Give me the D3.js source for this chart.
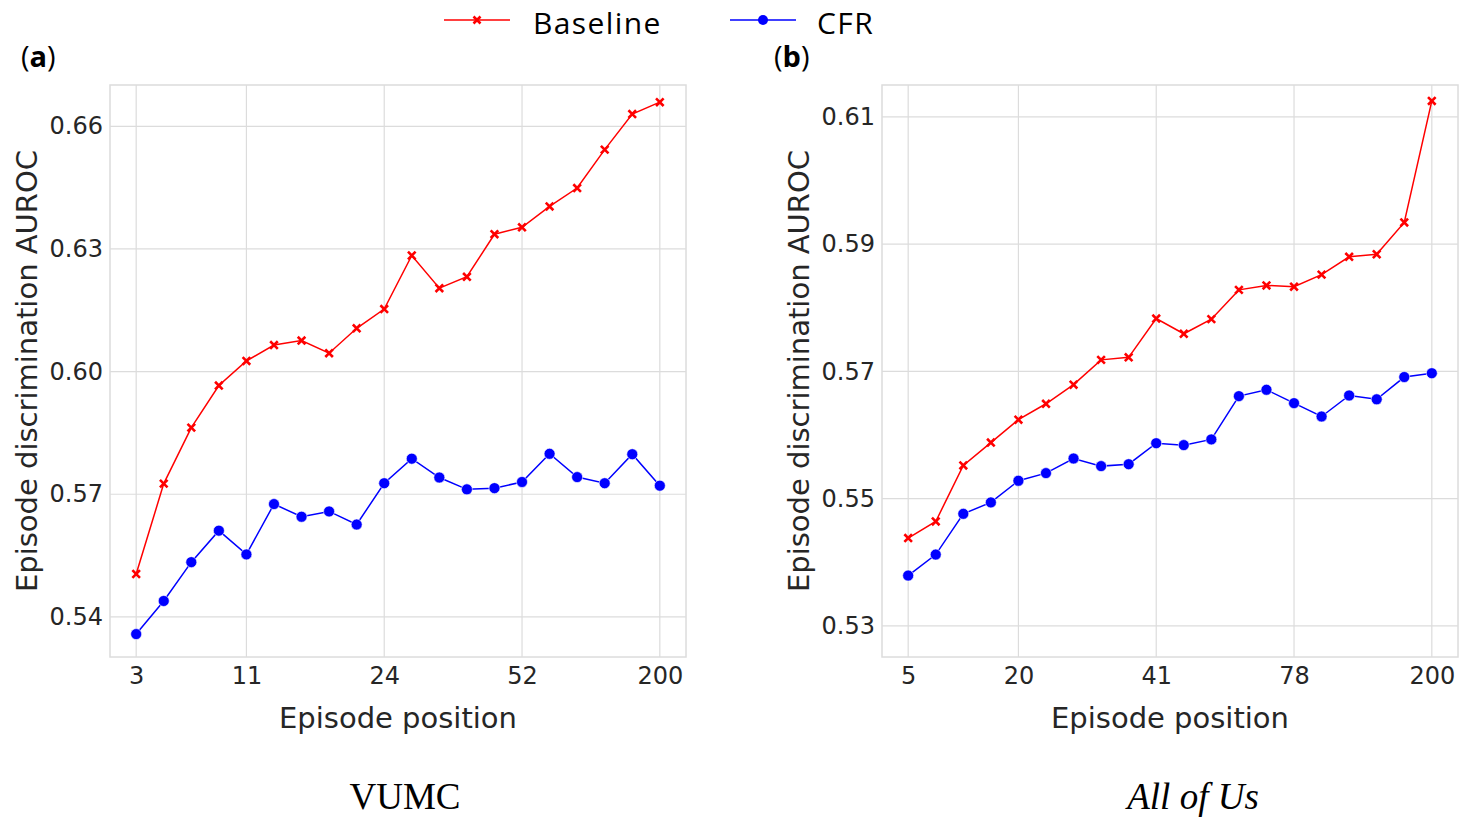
<!DOCTYPE html>
<html>
<head>
<meta charset="utf-8">
<script src="https://cdn.jsdelivr.net/npm/d3@7"></script>
<style>
  body { margin: 0; background: #fff; }
  svg { display: block; }
</style>
</head>
<body>
<div id="chart"></div>
<script>
// episode positions (categorical, only some labelled)
const tickLabelsA = ["3", "11", "24", "52", "200"];
const tickIdxA = [0, 4, 9, 14, 19];
const tickLabelsB = ["5", "20", "41", "78", "200"];
const tickIdxB = [0, 4, 9, 14, 19];

const baselineA = [0.5505, 0.5726, 0.5863, 0.5966, 0.6026, 0.6065, 0.6076, 0.6045, 0.6106, 0.6153,
                   0.6284, 0.6204, 0.6232, 0.6336, 0.6353, 0.6404, 0.6449, 0.6543, 0.6630, 0.6659];
const cfrA = [0.5358, 0.5439, 0.5534, 0.5611, 0.5553, 0.5676, 0.5645, 0.5658, 0.5626, 0.5727,
              0.5787, 0.5741, 0.5712, 0.5715, 0.5730, 0.5799, 0.5742, 0.5727, 0.5798, 0.5721];

const baselineB = [0.5438, 0.5464, 0.5552, 0.5588, 0.5624, 0.5649, 0.5679, 0.5718, 0.5722, 0.5783,
                   0.5759, 0.5782, 0.5828, 0.5835, 0.5833, 0.5852, 0.5880, 0.5884, 0.5934, 0.6125];
const cfrB = [0.5379, 0.5412, 0.5476, 0.5494, 0.5528, 0.5540, 0.5563, 0.5551, 0.5554, 0.5587,
              0.5584, 0.5593, 0.5661, 0.5671, 0.5650, 0.5629, 0.5662, 0.5656, 0.5691, 0.5697];

const yTicksA = [0.54, 0.57, 0.60, 0.63, 0.66];
const yTicksB = [0.53, 0.55, 0.57, 0.59, 0.61];

const W = 1465, H = 819;
const svg = d3.select("#chart").append("svg").attr("width", W).attr("height", H);

const RED = "#ff0000", BLUE = "#0000ff", GRID = "#dcdcdc";
const sans = "'DejaVu Sans', sans-serif";

function drawPanel(opt) {
  const { left, right, top, bottom } = opt;
  const n = opt.baseline.length;
  const x = d3.scaleLinear().domain([-0.95, n - 1 + 0.95]).range([left, right]);
  const y = d3.scaleLinear().domain(opt.yDomain).range([bottom, top]);

  const g = svg.append("g");

  // grid
  g.append("g").selectAll("line")
    .data(opt.tickIdx)
    .join("line")
      .attr("x1", d => x(d)).attr("x2", d => x(d))
      .attr("y1", top).attr("y2", bottom)
      .attr("stroke", GRID).attr("stroke-width", 1.2);
  g.append("g").selectAll("line")
    .data(opt.yTicks)
    .join("line")
      .attr("x1", left).attr("x2", right)
      .attr("y1", d => y(d)).attr("y2", d => y(d))
      .attr("stroke", GRID).attr("stroke-width", 1.2);

  g.append("rect")
    .attr("x", left).attr("y", top)
    .attr("width", right - left).attr("height", bottom - top)
    .attr("fill", "none").attr("stroke", GRID).attr("stroke-width", 1.5);

  // axes tick labels
  const xAxis = d3.axisBottom(x).tickValues(opt.tickIdx)
    .tickFormat((d, i) => opt.tickLabels[i]).tickSize(0).tickPadding(10);
  const xg = g.append("g").attr("transform", `translate(0,${bottom})`).call(xAxis);
  xg.select(".domain").remove();
  xg.selectAll("text").attr("font-family", sans).attr("font-size", 24).attr("fill", "#262626");

  const yAxis = d3.axisLeft(y).tickValues(opt.yTicks)
    .tickFormat(d3.format(".2f")).tickSize(0).tickPadding(7);
  const yg = g.append("g").attr("transform", `translate(${left},0)`).call(yAxis);
  yg.select(".domain").remove();
  yg.selectAll("text").attr("font-family", sans).attr("font-size", 24).attr("fill", "#262626");

  // axis titles
  g.append("text")
    .attr("x", (left + right) / 2).attr("y", 728)
    .attr("text-anchor", "middle")
    .attr("font-family", sans).attr("font-size", 29).attr("fill", "#262626")
    .text("Episode position");
  g.append("text")
    .attr("transform", `translate(${left - 73},${(top + bottom) / 2}) rotate(-90)`)
    .attr("text-anchor", "middle")
    .attr("font-family", sans).attr("font-size", 29).attr("fill", "#262626")
    .text("Episode discrimination AUROC");

  const line = d3.line().x((d, i) => x(i)).y(d => y(d));

  // CFR line + dots
  g.append("path").datum(opt.cfr)
    .attr("d", line).attr("fill", "none")
    .attr("stroke", BLUE).attr("stroke-width", 1.5);
  g.append("g").selectAll("circle")
    .data(opt.cfr)
    .join("circle")
      .attr("cx", (d, i) => x(i)).attr("cy", d => y(d))
      .attr("r", 5.5).attr("fill", BLUE)
      .attr("stroke", "#fff").attr("stroke-width", 0.6);

  // Baseline line + x markers
  g.append("path").datum(opt.baseline)
    .attr("d", line).attr("fill", "none")
    .attr("stroke", RED).attr("stroke-width", 1.5);
  const s = 3.8;
  g.append("g").selectAll("path")
    .data(opt.baseline)
    .join("path")
      .attr("d", (d, i) => {
        const cx = x(i), cy = y(d);
        return `M${cx - s},${cy - s}L${cx + s},${cy + s}M${cx - s},${cy + s}L${cx + s},${cy - s}`;
      })
      .attr("stroke", RED).attr("stroke-width", 2.6);

  // panel label
  const lab = svg.append("text")
    .attr("x", opt.labelX).attr("y", 67)
    .attr("font-family", "'Open Sans', sans-serif").attr("font-size", 29).attr("fill", "#000");
  lab.append("tspan").text("(");
  lab.append("tspan").attr("font-weight", "bold").text(opt.label);
  lab.append("tspan").text(")");

  // caption
  svg.append("text")
    .attr("x", opt.captionX).attr("y", 809)
    .attr("text-anchor", "middle")
    .attr("font-family", "'Liberation Serif', serif").attr("font-size", 37)
    .attr("font-style", opt.captionItalic ? "italic" : "normal")
    .attr("fill", "#000")
    .text(opt.caption);
}

drawPanel({
  left: 110, right: 686, top: 85, bottom: 657,
  yDomain: [0.5302, 0.6701],
  baseline: baselineA, cfr: cfrA,
  tickIdx: tickIdxA, tickLabels: tickLabelsA, yTicks: yTicksA,
  label: "a", labelX: 21, caption: "VUMC", captionX: 405, captionItalic: false
});

drawPanel({
  left: 882, right: 1458, top: 85, bottom: 657,
  yDomain: [0.5251, 0.6150],
  baseline: baselineB, cfr: cfrB,
  tickIdx: tickIdxB, tickLabels: tickLabelsB, yTicks: yTicksB,
  label: "b", labelX: 774, caption: "All of Us", captionX: 1193, captionItalic: true
});

// legend
const leg = svg.append("g");
leg.append("line").attr("x1", 444).attr("x2", 510).attr("y1", 20).attr("y2", 20)
  .attr("stroke", RED).attr("stroke-width", 1.5);
leg.append("path").attr("d", "M473.5,16.5L480.5,23.5M473.5,23.5L480.5,16.5")
  .attr("stroke", RED).attr("stroke-width", 2.6);
leg.append("text").attr("x", 533).attr("y", 34)
  .attr("font-family", "'Open Sans', sans-serif").attr("font-size", 30)
  .attr("letter-spacing", 1.4).attr("fill", "#000")
  .text("Baseline");
leg.append("line").attr("x1", 730).attr("x2", 796).attr("y1", 20).attr("y2", 20)
  .attr("stroke", BLUE).attr("stroke-width", 1.5);
leg.append("circle").attr("cx", 763).attr("cy", 20).attr("r", 5).attr("fill", BLUE);
leg.append("text").attr("x", 817).attr("y", 34)
  .attr("font-family", "'Open Sans', sans-serif").attr("font-size", 30)
  .attr("letter-spacing", 1.4).attr("fill", "#000")
  .text("CFR");
</script>
</body>
</html>
